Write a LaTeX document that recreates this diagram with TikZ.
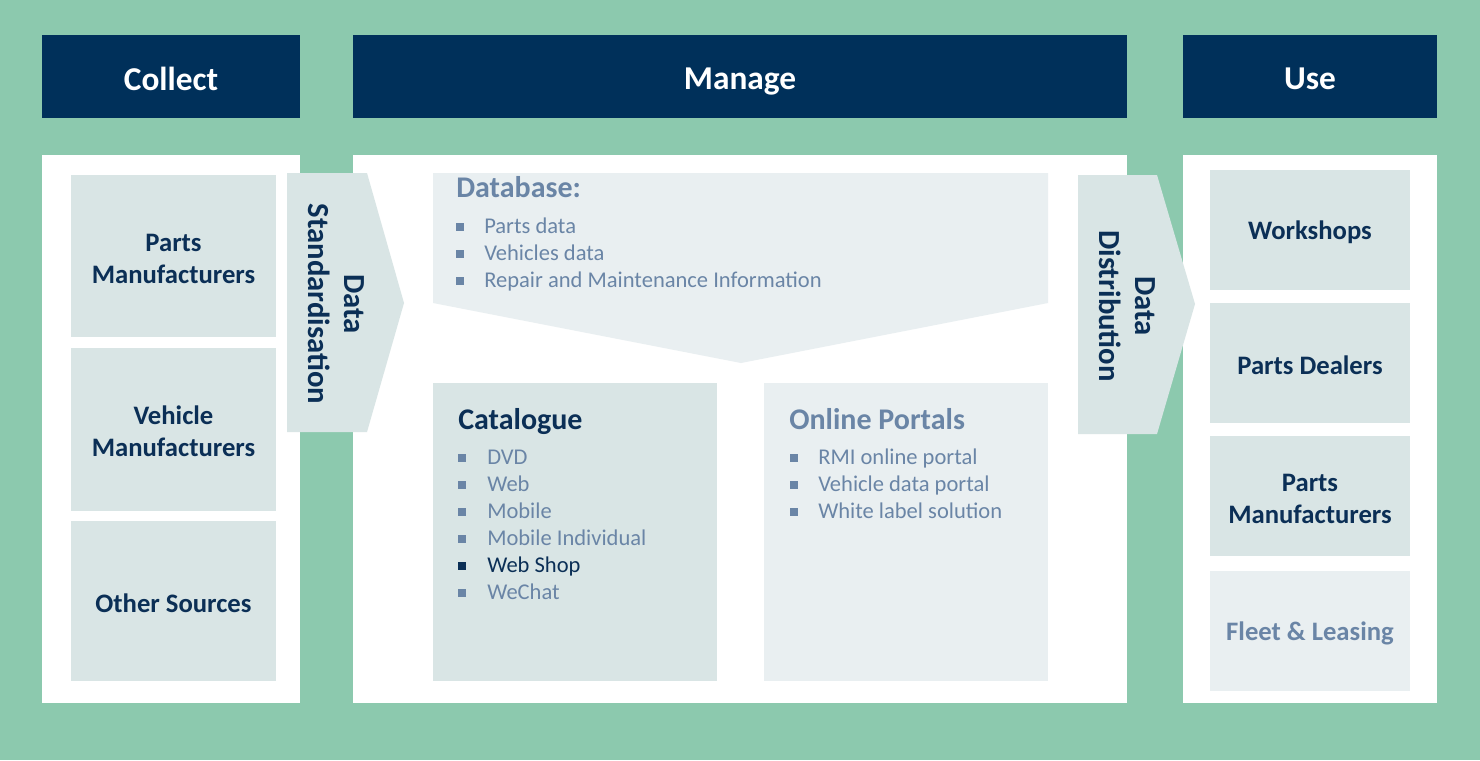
\documentclass[tikz,border=0pt]{standalone}
\usepackage{fontspec}
\setmainfont{Carlito}
\usetikzlibrary{fit}
\definecolor{bggreen}{HTML}{8CC9AE}
\definecolor{navy}{HTML}{00305A}
\definecolor{boxgrey}{HTML}{D9E5E5}
\definecolor{boxpale}{HTML}{E9EFF1}
\definecolor{slate}{HTML}{6A85A6}
\definecolor{ink}{HTML}{0B2F56}
\newcommand{\bsq}[2][21pt]{\makebox[#1][l]{\textcolor{#2}{\rule[1.5pt]{6pt}{6pt}}}}
\tikzset{
  hdr/.style={fill=navy, inner sep=0pt},
  hdrtext/.style={text=white, inner sep=0pt, font=\fontsize{25}{30}\selectfont\bfseries},
  panel/.style={fill=white, inner sep=0pt},
  tile/.style={fill=boxgrey, inner sep=0pt},
  paletile/.style={fill=boxpale, inner sep=0pt},
  tiletext/.style={text=ink, align=center, inner sep=0pt, font=\fontsize{20}{24}\selectfont\bfseries},
  flowlabel/.style={text=ink, align=center, rotate=-90, inner sep=0pt, font=\fontsize{23}{27}\selectfont\bfseries},
  heading/.style={anchor=base west, inner sep=0pt, font=\fontsize{22.5}{27}\selectfont\bfseries},
  item/.style={anchor=base west, inner sep=0pt, text=slate, font=\fontsize{16.9}{20}\selectfont},
}
\begin{document}
\begin{tikzpicture}[x=0.75pt,y=-0.75pt]
\useasboundingbox (0,0) rectangle (1480,760);
\fill[bggreen] (0,0) rectangle (1480,760);

% headers
\node[hdr, fit={(42,35) (300,118)}] (collect) {};
\node[hdr, fit={(353,35) (1127,118)}] (manage) {};
\node[hdr, fit={(1183,35) (1437,118)}] (use) {};
\node[hdrtext] (tcollect) at ([yshift=-1.5]collect.center) {Collect};
\node[hdrtext] (tmanage) at ([yshift=-4]manage.center) {Manage};
\node[hdrtext] (tuse) at ([yshift=-1.5]use.center) {Use};

% white panels
\node[panel, fit={(42,155) (300,703)}] (pcollect) {};
\node[panel, fit={(353,155) (1127,703)}] (pmanage) {};
\node[panel, fit={(1183,155) (1437,703)}] (puse) {};

% collect tiles
\node[tile, fit={(71,175) (276,337)}] (pm1) {};
\node[tile, fit={(71,348) (276,511)}] (vm) {};
\node[tile, fit={(71,521) (276,681)}] (os) {};
\node[tiletext] (tpm1) at ([yshift=-2]pm1.center) {Parts\\Manufacturers};
\node[tiletext] (tvm) at ([yshift=-1]vm.center) {Vehicle\\Manufacturers};
\node[tiletext] (tos) at ([yshift=-2]os.center) {Other Sources};

% use tiles
\node[tile, fit={(1210,170) (1410,290)}] (ws) {};
\node[tile, fit={(1210,303) (1410,423)}] (pd) {};
\node[tile, fit={(1210,436) (1410,556)}] (pm2) {};
\node[paletile, fit={(1210,571) (1410,691)}] (fl) {};
\node[tiletext] (tws) at ([yshift=-2]ws.center) {Workshops};
\node[tiletext] (tpd) at ([yshift=-2]pd.center) {Parts Dealers};
\node[tiletext] (tpm2) at ([yshift=-2]pm2.center) {Parts\\Manufacturers};
\node[tiletext, text=slate] (tfl) at ([yshift=-2]fl.center) {Fleet \& Leasing};

% database pentagon
\fill[boxpale] (433,173) -- (1048,173) -- (1048,303) -- (741,363) -- (433,303) -- cycle;

% catalogue and portals
\node[tile, fit={(433,383) (717,681)}] (cat) {};
\node[paletile, fit={(764,383) (1048,681)}] (por) {};

% flow arrows
\fill[boxgrey] (287,173) -- (367,173) -- (404,303) -- (367,432) -- (287,432) -- cycle;
\node[flowlabel] (std) at (336,304) {Data\\Standardisation};
\fill[boxgrey] (1078,175) -- (1157,175) -- (1195,304) -- (1157,434) -- (1078,434) -- cycle;
\node[flowlabel] (dist) at (1127,306) {Data\\Distribution};

% database text
\node[heading, text=slate] (dbh) at (456,197) {Database:};
\node[item] (db1) at (456,233) {\bsq{slate}Parts data};
\node[item] (db2) at (456,260) {\bsq{slate}Vehicles data};
\node[item] (db3) at (456,287) {\bsq{slate}Repair and Maintenance Information};

% catalogue text
\node[heading, text=ink] (cath) at (458,429) {Catalogue};
\node[item] (c1) at (458,464) {\bsq[21.75pt]{slate}DVD};
\node[item] (c2) at (458,491) {\bsq[21.75pt]{slate}Web};
\node[item] (c3) at (458,518) {\bsq[21.75pt]{slate}Mobile};
\node[item] (c4) at (458,545) {\bsq[21.75pt]{slate}Mobile Individual};
\node[item, text=ink] (c5) at (458,572) {\bsq[21.75pt]{ink}Web Shop};
\node[item] (c6) at (458,599) {\bsq[21.75pt]{slate}WeChat};

% portals text
\node[heading, text=slate] (porh) at (789,429) {Online Portals};
\node[item] (p1) at (790,464) {\bsq{slate}RMI online portal};
\node[item] (p2) at (790,491) {\bsq{slate}Vehicle data portal};
\node[item] (p3) at (790,518) {\bsq{slate}White label solution};
\end{tikzpicture}
\end{document}
